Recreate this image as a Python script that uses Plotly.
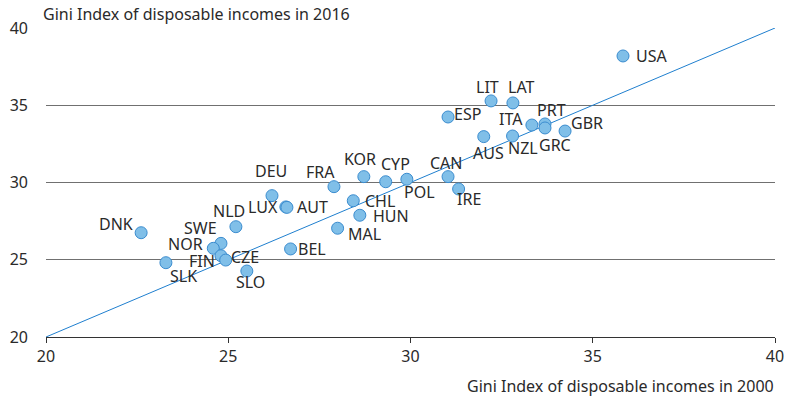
import plotly.graph_objects as go

# Gini index of disposable incomes, 2000 vs 2016
countries = ["USA", "LIT", "LAT", "ESP", "ITA", "PRT", "GRC", "GBR", "AUS", "NZL",
             "CAN", "IRE", "KOR", "CYP", "POL", "FRA", "DEU", "LUX", "AUT", "CHL",
             "HUN", "MAL", "BEL", "DNK", "NLD", "SWE", "NOR", "FIN", "CZE", "SLK", "SLO"]
gini_2000 = [35.83, 32.21, 32.81, 31.03, 33.33, 33.69, 33.69, 34.24, 32.01, 32.80,
             31.03, 31.32, 28.72, 29.32, 29.90, 27.90, 26.20, 26.58, 26.61, 28.43,
             28.61, 28.00, 26.71, 22.61, 25.21, 24.80, 24.59, 24.80, 24.93, 23.29, 25.51]
gini_2016 = [38.19, 35.28, 35.15, 34.24, 33.72, 33.79, 33.53, 33.33, 32.97, 33.01,
             30.38, 29.58, 30.38, 30.05, 30.21, 29.73, 29.15, 28.42, 28.39, 28.82,
             27.88, 27.04, 25.70, 26.75, 27.14, 26.06, 25.74, 25.26, 24.98, 24.81, 24.27]
parity = [20, 40]
axis_ticks = [20, 25, 30, 35, 40]

# label placement: (horizontal anchor, pixel shift x, pixel shift y)
label_pos = {
    "USA": ("left", 12, 0), "LIT": ("center", -4, 14), "LAT": ("center", 8, 16),
    "ESP": ("left", 5, 3), "ITA": ("center", -21, 6), "PRT": ("center", 6, 14),
    "GRC": ("center", 10, -17), "GBR": ("left", 5, 8), "AUS": ("center", 5, -16),
    "NZL": ("center", 10, -12), "CAN": ("center", -2, 14), "IRE": ("center", 10, -10),
    "KOR": ("center", -4, 18), "CYP": ("center", 10, 18), "POL": ("center", 13, -13),
    "FRA": ("center", -13, 15), "DEU": ("center", -1, 25), "LUX": ("right", -7, 0),
    "AUT": ("left", 9, 0), "CHL": ("left", 11, 0), "HUN": ("left", 12, -1),
    "MAL": ("left", 9, -6), "BEL": ("left", 6, 0), "DNK": ("right", -7, 9),
    "NLD": ("center", -7, 16), "SWE": ("right", -3, 15), "NOR": ("right", -9, 4),
    "FIN": ("right", -5, -5), "CZE": ("left", 4, 3), "SLK": ("left", 3, -13),
    "SLO": ("center", 4, -11),
}

font_family = "Noto Sans"
text_color = "#2a2a2a"
label_size = 16

fig = go.Figure()

fig.add_trace(go.Scatter(
    x=parity, y=parity, mode="lines",
    line=dict(color="#1f7fcf", width=1),
    hoverinfo="skip", showlegend=False,
))

fig.add_trace(go.Scatter(
    x=gini_2000, y=gini_2016, mode="markers", text=countries,
    marker=dict(size=12, color="#80bfe8", line=dict(color="#3a8ccf", width=1)),
    showlegend=False,
))

annotations = []
for name, gx, gy in zip(countries, gini_2000, gini_2016):
    xa, dx, dy = label_pos[name]
    annotations.append(dict(
        x=gx, y=gy, xref="x", yref="y", text=name, showarrow=False,
        xanchor=xa, yanchor="middle", xshift=dx, yshift=dy, borderpad=0,
        font=dict(family=font_family, size=label_size, color=text_color),
    ))

annotations.append(dict(
    x=0, y=1, xref="paper", yref="paper", xanchor="left", yanchor="middle",
    xshift=-5, yshift=14, showarrow=False,
    text="Gini Index of disposable incomes in 2016",
    font=dict(family=font_family, size=label_size, color=text_color),
))
annotations.append(dict(
    x=1, y=0, xref="paper", yref="paper", xanchor="right", yanchor="middle",
    xshift=1, yshift=-49, showarrow=False,
    text="Gini Index of disposable incomes in 2000",
    font=dict(family=font_family, size=label_size, color=text_color),
))

fig.update_layout(
    width=787, height=400,
    margin=dict(l=46, r=12, t=28, b=63),
    paper_bgcolor="white", plot_bgcolor="white",
    font=dict(family=font_family, size=label_size, color=text_color),
    annotations=annotations,
    xaxis=dict(
        range=[20, 40], tickvals=axis_ticks, showgrid=False, zeroline=False,
        showline=True, linecolor="#333333", linewidth=1, automargin=False,
        ticks="outside", ticklen=5, tickcolor="#333333",
        tickfont=dict(family=font_family, size=label_size, color=text_color),
    ),
    yaxis=dict(
        range=[20, 40], tickvals=axis_ticks, showgrid=True, automargin=False,
        gridcolor="#707070", gridwidth=1, zeroline=False, showline=False,
        ticks="", ticklabelstandoff=17,
        tickfont=dict(family=font_family, size=label_size, color=text_color),
    ),
)

fig.write_html("out.html")
